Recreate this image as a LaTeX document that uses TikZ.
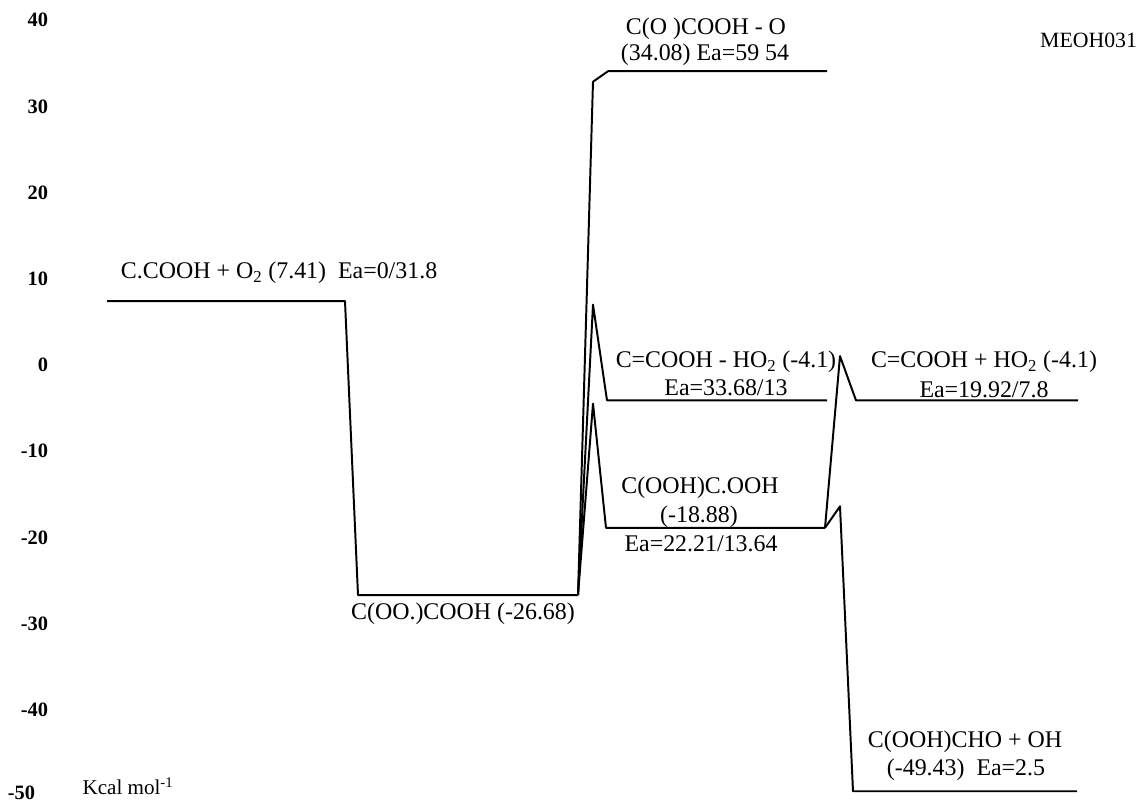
\documentclass[tikz,border=0pt]{standalone}
\usepackage{fontspec}
\setmainfont{Liberation Serif}
\begin{document}
\begin{tikzpicture}[x=0.025cm, y=0.2155cm, line width=1.4pt, line join=round,
		lbl/.style={font=\fontsize{17}{19}\selectfont, inner sep=0pt},
		tick/.style={font=\fontsize{14.5}{16}\selectfont\bfseries, anchor=east, inner sep=0pt}]
		\useasboundingbox (0,-50.70) rectangle (1140,42.34);
		% energy axis values
		\foreach \v in {40,30,...,-40}
			\node[tick] (t\v) at (49,\v) {\v};
		\node[tick] (t-50) at (36,-49.65) {-50};
		\node[lbl, font=\fontsize{15}{18}\selectfont] (unit) at (128,-48.84) {Kcal mol\textsuperscript{-1}};
		\node[lbl, font=\fontsize{15.5}{18}\selectfont, anchor=east] (name) at (1138,37.70) {MEOH031};
		%%%%

		% Levels (x in px, y in kcal/mol)
		\coordinate (a1) at (107,7.41);   \coordinate (a2) at (345,7.41);
		\coordinate (b1) at (358,-26.68); \coordinate (b2) at (578,-26.68);
		\coordinate (c0) at (593,32.86);  \coordinate (c1) at (608,34.08);  \coordinate (c2) at (827,34.08);
		\coordinate (d0) at (593,7.0);    \coordinate (d1) at (607,-4.1);   \coordinate (d2) at (827,-4.1);
		\coordinate (e0) at (593,-4.47);  \coordinate (e1) at (606,-18.88); \coordinate (e2) at (825,-18.88);
		\coordinate (f0) at (840,1.04);   \coordinate (f1) at (856,-4.1);   \coordinate (f2) at (1078,-4.1);
		\coordinate (g0) at (840,-16.38); \coordinate (g1) at (853,-49.43); \coordinate (g2) at (1077,-49.43);

		\draw (a1) -- (a2) -- (b1) -- (b2);
		\draw (b2) -- (c0) -- (c1) -- (c2);
		\draw (b2) -- (d0) -- (d1) -- (d2);
		\draw (b2) -- (e0) -- (e1) -- (e2);
		\draw (e2) -- (f0) -- (f1) -- (f2);
		\draw (e2) -- (g0) -- (g1) -- (g2);

		% Labels
		\node[lbl, anchor=west] (la) at (120,10.67) {C.COOH + O\textsubscript{2} (7.41)\ \ Ea=0/31.8};
		\node[lbl] (lb) at (463,-28.89) {C(OO.)COOH (-26.68)};
		\node[lbl] (lc1) at (706,39.0) {C(O )COOH - O};
		\node[lbl] (lc2) at (705,36.0) {(34.08) Ea=59 54};
		\node[lbl] (ld1) at (726,0.35) {C=COOH - HO\textsubscript{2} (-4.1)};
		\node[lbl] (ld2) at (726,-2.67) {Ea=33.68/13};
		\node[lbl] (le1) at (700,-14.27) {C(OOH)C.OOH};
		\node[lbl] (le2) at (699,-17.63) {(-18.88)};
		\node[lbl] (le3) at (701,-20.77) {Ea=22.21/13.64};
		\node[lbl] (lf1) at (984,0.35) {C=COOH + HO\textsubscript{2} (-4.1)};
		\node[lbl] (lf2) at (984,-2.90) {Ea=19.92/7.8};
		\node[lbl] (lg1) at (965,-43.74) {C(OOH)CHO + OH};
		\node[lbl] (lg2) at (966,-46.98) {(-49.43)\ \ Ea=2.5};
\end{tikzpicture}
\end{document}
